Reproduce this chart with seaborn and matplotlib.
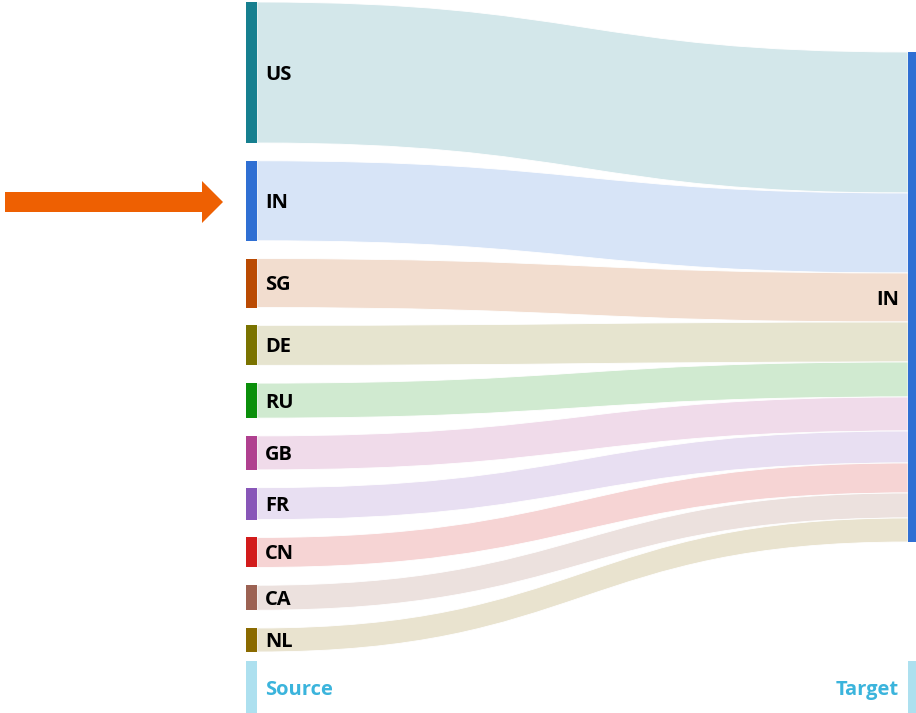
import numpy as np
import matplotlib
matplotlib.use("Agg")
import matplotlib.pyplot as plt
from matplotlib.path import Path
from matplotlib.patches import PathPatch, FancyArrow
import matplotlib.colors as mcolors
import seaborn as sns

# Source countries flowing into the single target node
sources = ["US", "IN", "SG", "DE", "RU", "GB", "FR", "CN", "CA", "NL"]
values = [141, 80, 49, 40, 35, 34, 32, 30, 25, 24]
target = "IN"
node_colors = ["#167f8f", "#2f6fd3", "#ba4a02", "#7a7300", "#0a8f0a",
               "#b0408f", "#8856b8", "#d21b1b", "#9c6253", "#8a6a00"]
target_color = "#2f6fd3"
axis_labels = ["Source", "Target"]

sns.set_theme(style="white")
plt.rcParams["font.family"] = ["Open Sans", "DejaVu Sans"]

W, H = 916, 713
fig = plt.figure(figsize=(W / 100, H / 100), dpi=100)
ax = fig.add_axes([0, 0, 1, 1])
ax.set_xlim(0, W)
ax.set_ylim(H, 0)
ax.axis("off")

# layout (pixel space)
x_left, node_w = 246, 11
x_right = 908
top_left, bottom_left = 2, 652
top_right = 52
total = sum(values)
gap = (bottom_left - top_left - total) / (len(values) - 1)
scale = 1.0
fs = 14.5


def lighten(c, a=0.19):
    r, g, b = mcolors.to_rgb(c)
    return (1 - a * (1 - r), 1 - a * (1 - g), 1 - a * (1 - b))


y = top_left
yr = top_right
for name, v, col in zip(sources, values, node_colors):
    h = v * scale
    # ribbon from the source node to the target node
    x0, x1 = x_left + node_w, x_right
    xm = (x0 + x1) / 2
    verts = [(x0, y), (xm, y), (xm, yr), (x1, yr),
             (x1, yr + h), (xm, yr + h), (xm, y + h), (x0, y + h), (x0, y)]
    codes = [Path.MOVETO, Path.CURVE4, Path.CURVE4, Path.CURVE4,
             Path.LINETO, Path.CURVE4, Path.CURVE4, Path.CURVE4, Path.CLOSEPOLY]
    ax.add_patch(PathPatch(Path(verts, codes), facecolor=lighten(col),
                           edgecolor="white", lw=0.6, zorder=1))
    # source node bar
    ax.bar(x_left, h, width=node_w, bottom=y, align="edge", color=col,
           linewidth=0, zorder=2)
    ax.text(x_left + 19, y + h / 2 + 2, name, ha="left", va="center",
            fontsize=fs, fontweight="bold", color="black", zorder=3)
    y += h + gap
    yr += h

# target node
ax.bar(x_right, total * scale, width=node_w, bottom=top_right, align="edge",
       color=target_color, linewidth=0, zorder=2)
ax.text(x_right - 9, top_right + total * scale / 2 + 3, target, ha="right",
        va="center", fontsize=fs, fontweight="bold", color="black", zorder=3)

# column captions
cap_col = "#3bb4dc"
bar_col = "#ade0ef"
ax.bar(x_left, 52, width=node_w, bottom=661, align="edge", color=bar_col,
       linewidth=0)
ax.bar(x_right, 52, width=node_w, bottom=661, align="edge", color=bar_col,
       linewidth=0)
ax.text(x_left + 19, 690, axis_labels[0], ha="left", va="center",
        fontsize=fs, fontweight="bold", color=cap_col)
ax.text(x_right - 9, 690, axis_labels[1], ha="right", va="center",
        fontsize=fs, fontweight="bold", color=cap_col)

# pointer arrow toward the IN source node
ax.add_patch(FancyArrow(5, 202, 218, 0, width=20, head_width=42,
                        head_length=21, length_includes_head=True,
                        color="#ee6002", linewidth=0))

fig.savefig("out.png", dpi=100)
